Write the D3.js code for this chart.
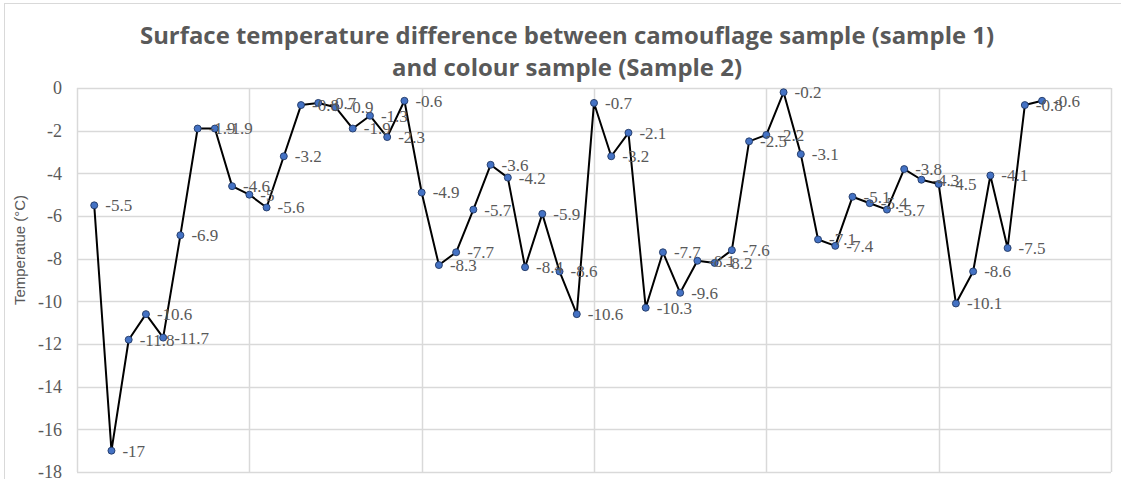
<!DOCTYPE html>
<html>
<head>
<meta charset="utf-8">
<script src="https://cdn.jsdelivr.net/npm/d3@7/dist/d3.min.js"></script>
<style>
  html, body { margin: 0; padding: 0; background: #fff; }
  svg { display: block; }
</style>
</head>
<body>
<svg id="chart" width="1121" height="479"></svg>
<script>
// ---- data ----
const titleLines = ["Surface temperature difference between camouflage sample (sample 1)", "and colour sample (Sample 2)"];
const yAxisTitle = "Temperatue (\u00B0C)";
const sampleIndex = [1,2,3,4,5,6,7,8,9,10,11,12,13,14,15,16,17,18,19,20,21,22,23,24,25,26,27,28,29,30,31,32,33,34,35,36,37,38,39,40,41,42,43,44,45,46,47,48,49,50,51,52,53,54,55,56];
const tempDiff = [-5.5,-17,-11.8,-10.6,-11.7,-6.9,-1.9,-1.9,-4.6,-5,-5.6,-3.2,-0.8,-0.7,-0.9,-1.9,-1.3,-2.3,-0.6,-4.9,-8.3,-7.7,-5.7,-3.6,-4.2,-8.4,-5.9,-8.6,-10.6,-0.7,-3.2,-2.1,-10.3,-7.7,-9.6,-8.1,-8.2,-7.6,-2.5,-2.2,-0.2,-3.1,-7.1,-7.4,-5.1,-5.4,-5.7,-3.8,-4.3,-4.5,-10.1,-8.6,-4.1,-7.5,-0.8,-0.6];
const xTicks = [0,10,20,30,40,50,60];
const yTicks = [0,-2,-4,-6,-8,-10,-12,-14,-16,-18];

const data = sampleIndex.map((x, i) => ({x: x, y: tempDiff[i]}));
const fmt = v => String(v); // plain hyphen-minus as in the reference

const svg = d3.select("#chart");

// chart border
svg.append("rect")
  .attr("x", 4.5).attr("y", 3.5)
  .attr("width", 1130).attr("height", 490)
  .attr("fill", "#fff").attr("stroke", "#d9d9d9").attr("stroke-width", 1);

const x = d3.scaleLinear().domain([0, 60]).range([77, 1111]);
const y = d3.scaleLinear().domain([-18, 0]).range([472, 88]);

// gridlines
svg.append("g").selectAll("line.h").data(yTicks).join("line")
  .attr("x1", x(0)).attr("x2", x(60))
  .attr("y1", d => Math.round(y(d)) + 0.5).attr("y2", d => Math.round(y(d)) + 0.5)
  .attr("stroke", "#d9d9d9").attr("stroke-width", 1.5);
svg.append("g").selectAll("line.v").data(xTicks).join("line")
  .attr("y1", y(0)).attr("y2", y(-18))
  .attr("x1", d => Math.round(x(d)) + 0.5).attr("x2", d => Math.round(x(d)) + 0.5)
  .attr("stroke", "#d9d9d9").attr("stroke-width", 1.5);

// y axis labels
const yAxis = d3.axisLeft(y).tickValues(yTicks).tickSize(0).tickPadding(0).tickFormat(fmt);
const yg = svg.append("g").attr("transform", "translate(62,0)").call(yAxis);
yg.select(".domain").remove();
yg.selectAll("text")
  .attr("font-family", "'Liberation Serif', 'Times New Roman', serif")
  .attr("font-size", 18).attr("fill", "#595959");

// y axis title
svg.append("text")
  .attr("transform", "translate(25,250) rotate(-90)")
  .attr("text-anchor", "middle")
  .attr("font-family", "'Liberation Sans', Arial, sans-serif")
  .attr("font-size", 15).attr("fill", "#595959")
  .text(yAxisTitle);

// line
const line = d3.line().x(d => x(d.x)).y(d => y(d.y));
svg.append("path").datum(data)
  .attr("d", line).attr("fill", "none")
  .attr("stroke", "#000").attr("stroke-width", 2).attr("stroke-linejoin", "round");

// markers
svg.append("g").selectAll("circle").data(data).join("circle")
  .attr("cx", d => x(d.x)).attr("cy", d => y(d.y)).attr("r", 3.5)
  .attr("fill", "#4472C4").attr("stroke", "#203864").attr("stroke-width", 0.9);

// data labels
svg.append("g").selectAll("text").data(data).join("text")
  .attr("x", d => x(d.x) + 11).attr("y", d => y(d.y)).attr("dy", "0.35em")
  .attr("font-family", "'Liberation Serif', 'Times New Roman', serif")
  .attr("font-size", 17).attr("fill", "#595959")
  .text(d => fmt(d.y));

// title
const titleWidths = [854, 350];
const titleY = [44, 76];
svg.append("g").selectAll("text").data(titleLines).join("text")
  .attr("x", 567).attr("y", (d, i) => titleY[i])
  .attr("text-anchor", "middle")
  .attr("font-family", "'Open Sans', sans-serif").attr("font-weight", "bold")
  .attr("font-size", 23).attr("fill", "#595959")
  .attr("textLength", (d, i) => titleWidths[i])
  .attr("lengthAdjust", "spacingAndGlyphs")
  .text(d => d);
</script>
</body>
</html>
